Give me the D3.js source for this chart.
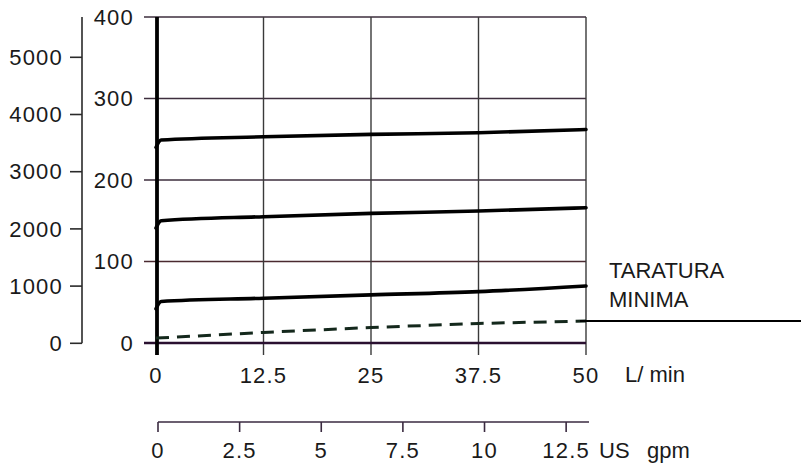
<!DOCTYPE html>
<html><head><meta charset="utf-8">
<script src="https://cdn.jsdelivr.net/npm/d3@7/dist/d3.min.js"></script>
<style>
html,body{margin:0;padding:0;background:#fff;}
svg text{font-family:"Liberation Sans",Arial,Helvetica,sans-serif;fill:#1a1a1a;}
svg text.num{letter-spacing:1.2px;}
</style></head>
<body>
<svg id="chart" width="801" height="466"></svg>
<script>
// ---- data ----
const flowTicks = [0, 12.5, 25, 37.5, 50];          // L/min
const barTicks = [0, 100, 200, 300, 400];           // bar
const psiTicks = [0, 1000, 2000, 3000, 4000, 5000]; // psi
const gpmTicks = [0, 2.5, 5, 7.5, 10, 12.5];        // US gpm
const flowPoints = [0, 0.6, 12.5, 25, 37.5, 50];    // L/min
const curveHigh = [240, 249, 253, 256, 258, 262];   // bar
const curveMid  = [141, 150, 155, 159, 162, 166];   // bar
const curveLow  = [42, 51, 55, 59, 63, 70];         // bar
const dashedFlow = [0, 12.5, 25, 37.5, 50];
const curveMin  = [6, 13, 19, 24, 27];              // bar (taratura minima)
const minLabel = ["TARATURA", "MINIMA"];

const svg = d3.select("#chart");
const x = d3.scaleLinear().domain([0, 50]).range([156, 586]);
const y = d3.scaleLinear().domain([0, 400]).range([343, 17]);
const yPsi = d3.scaleLinear().domain([0, 5000]).range([343.3, 57.3]);
const xGpm = d3.scaleLinear().domain([0, 13.2]).range([158, 589]);

const gridCol = "#3d2e3d";
const fs = 22;

// horizontal grid lines (bar ticks, extend left as tick marks)
svg.append("g").selectAll("line").data(barTicks.filter(d => d > 0)).join("line")
  .attr("x1", 144).attr("x2", x(50))
  .attr("y1", d => y(d)).attr("y2", d => y(d))
  .attr("stroke", d => d === 100 ? "#4a2a30" : gridCol).attr("stroke-width", 1.4);

// vertical grid lines (extend below as ticks)
svg.append("g").selectAll("line").data(flowTicks.filter(d => d > 0)).join("line")
  .attr("x1", d => x(d)).attr("x2", d => x(d))
  .attr("y1", y(400)).attr("y2", 355)
  .attr("stroke", "#3a3a3a").attr("stroke-width", 1.4);

// bottom axis line
svg.append("line").attr("x1", 144).attr("x2", x(50))
  .attr("y1", y(0)).attr("y2", y(0))
  .attr("stroke", "#2a1030").attr("stroke-width", 2.6);

// thick line at x=0
svg.append("line").attr("x1", x(0) + 1).attr("x2", x(0) + 1)
  .attr("y1", y(400)).attr("y2", 355)
  .attr("stroke", "#000").attr("stroke-width", 3.8);

// bar labels
svg.append("g").selectAll("text").data(barTicks).join("text").attr("class", "num")
  .attr("x", 134).attr("y", d => y(d)).attr("dy", "0.35em")
  .attr("text-anchor", "end").attr("font-size", fs).text(d => d);

// x labels (L/min)
svg.append("g").selectAll("text").data(flowTicks).join("text").attr("class", "num")
  .attr("x", d => x(d)).attr("y", 383)
  .attr("text-anchor", "middle").attr("font-size", fs).text(d => d);
svg.append("text").attr("x", 625).attr("y", 382).attr("font-size", fs).text("L/ min");

// psi axis
const gPsi = svg.append("g");
gPsi.append("line").attr("x1", 82).attr("x2", 82).attr("y1", 17).attr("y2", yPsi(0))
  .attr("stroke", "#2a2a2a").attr("stroke-width", 1.6);
gPsi.selectAll("line.t").data(psiTicks).join("line").attr("class", "t")
  .attr("x1", 70).attr("x2", 82).attr("y1", d => yPsi(d)).attr("y2", d => yPsi(d))
  .attr("stroke", "#2a2a2a").attr("stroke-width", 1.6);
gPsi.selectAll("text").data(psiTicks).join("text").attr("class", "num")
  .attr("x", 63).attr("y", d => yPsi(d)).attr("dy", "0.35em")
  .attr("text-anchor", "end").attr("font-size", fs).text(d => d);

// gpm axis
const gG = svg.append("g");
gG.append("line").attr("x1", xGpm(0)).attr("x2", xGpm(13.2)).attr("y1", 422).attr("y2", 422)
  .attr("stroke", "#3a2a40").attr("stroke-width", 1.6);
gG.selectAll("line.t").data(gpmTicks).join("line").attr("class", "t")
  .attr("x1", d => xGpm(d)).attr("x2", d => xGpm(d)).attr("y1", 422).attr("y2", 432)
  .attr("stroke", "#3a2a40").attr("stroke-width", 1.6);
gG.selectAll("text").data(gpmTicks).join("text").attr("class", "num")
  .attr("x", d => xGpm(d)).attr("y", 458)
  .attr("text-anchor", "middle").attr("font-size", fs).text(d => d);
const us = svg.append("text").attr("y", 458).attr("font-size", fs);
us.append("tspan").attr("x", 599).text("US");
us.append("tspan").attr("x", 647).text("gpm");

// curves
const line = d3.line().x(d => x(d[0])).y(d => y(d[1])).curve(d3.curveMonotoneX);
[curveHigh, curveMid, curveLow].forEach(vals => {
  svg.append("path").datum(flowPoints.map((f, i) => [f, vals[i]]))
    .attr("d", line).attr("fill", "none").attr("stroke", "#000")
    .attr("stroke-width", 3.6).attr("stroke-linecap", "round");
});
svg.append("path").datum(dashedFlow.map((f, i) => [f, curveMin[i]]))
  .attr("d", d3.line().x(d => x(d[0])).y(d => y(d[1])))
  .attr("fill", "none").attr("stroke", "#14281c").attr("stroke-width", 3)
  .attr("stroke-dasharray", "13,8");

// taratura minima pointer line & label
svg.append("line").attr("x1", x(50) - 6).attr("x2", 801)
  .attr("y1", y(curveMin[curveMin.length - 1])).attr("y2", y(curveMin[curveMin.length - 1]))
  .attr("stroke", "#000").attr("stroke-width", 2.2);
svg.append("g").selectAll("text").data(minLabel).join("text")
  .attr("x", 609).attr("y", (d, i) => 278 + i * 29).attr("font-size", fs).text(d => d);
</script>
</body></html>
